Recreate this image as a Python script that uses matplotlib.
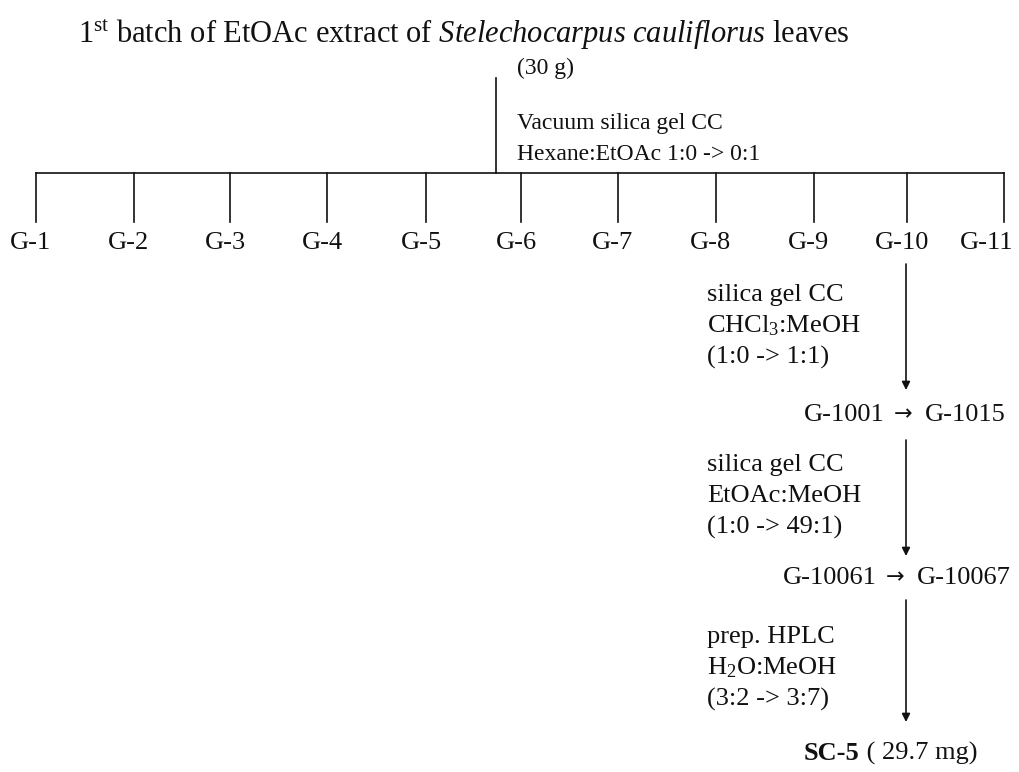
import matplotlib

matplotlib.use("Agg")
import matplotlib.pyplot as plt

SERIF = ["Liberation Serif", "DejaVu Serif"]
INK = "#111111"

plt.rcParams.update({
    "font.family": SERIF,
    "mathtext.fontset": "custom",
    "mathtext.rm": "Liberation Serif",
    "mathtext.it": "Liberation Serif:italic",
    "mathtext.bf": "Liberation Serif:bold",
    "text.color": INK,
})

# fractions from the first column
groups = ["G-1", "G-2", "G-3", "G-4", "G-5", "G-6", "G-7", "G-8", "G-9", "G-10", "G-11"]
group_x = [36, 134, 230, 327, 426, 521, 618, 716, 814, 907, 1004]

title = r"1$^{\mathrm{st}}$ batch of EtOAc extract of $\mathit{Stelechocarpus\ cauliflorus}$ leaves"
mass = "(30 g)"
first_step = ["Vacuum silica gel CC", "Hexane:EtOAc 1:0 -> 0:1"]

# chain of steps below G-10
steps = [
    ["silica gel CC", r"CHCl$_3$:MeOH", "(1:0 -> 1:1)"],
    ["silica gel CC", "EtOAc:MeOH", "(1:0 -> 49:1)"],
    ["prep. HPLC", r"H$_2$O:MeOH", "(3:2 -> 3:7)"],
]
products = [("G-1001", "G-1015"), ("G-10061", "G-10067")]
final_name = "SC-5"
final_mass = " ( 29.7 mg)"

fig = plt.figure(figsize=(10.2, 7.72), dpi=100)
ax = fig.add_axes([0, 0, 1, 1])
ax.set_xlim(0, 1020)
ax.set_ylim(772, 0)
ax.axis("off")

FS = 19
LW = 1.2

ax.text(78, 35, title, fontsize=22, ha="left", va="center")
ax.text(517, 68, mass, fontsize=17, ha="left", va="center")

# trunk + header bar
ax.plot([496, 496], [78, 173], color=INK, lw=LW)
for i, s in enumerate(first_step):
    ax.text(517, 124 + 30 * i, s, fontsize=17, ha="left", va="center")
ax.plot([group_x[0], group_x[-1]], [173, 173], color=INK, lw=LW)
for i, (x, g) in enumerate(zip(group_x, groups)):
    ax.plot([x, x], [173, 222], color=INK, lw=LW)
    if i == len(groups) - 1:
        ax.text(1013, 243, g, fontsize=FS, ha="right", va="center")
    else:
        ax.text(x - 5, 243, g, fontsize=FS, ha="center", va="center")

# descending chain
col_x = 906
tops = [264, 440, 600]
bottoms = [390, 556, 722]
label_tops = [295, 465, 637]
for top, bot, ly, lines in zip(tops, bottoms, label_tops, steps):
    ax.annotate("", xy=(col_x, bot), xytext=(col_x, top),
                arrowprops=dict(arrowstyle="-|>", color=INK, lw=LW,
                                mutation_scale=12, shrinkA=0, shrinkB=0))
    for i, s in enumerate(lines):
        ax.text(707, ly + 31 * i, s, fontsize=FS, ha="left", va="center")

prod_y = [415, 578]
arrow_x = [903, 895]
for (a, b), y, xa in zip(products, prod_y, arrow_x):
    ax.text(xa - 18, y, a, fontsize=FS, ha="right", va="center")
    ax.text(xa, y - 1, "\u2192", fontsize=16, ha="center", va="center",
            family="DejaVu Sans")
    ax.text(xa + 22, y, b, fontsize=FS, ha="left", va="center")

t = ax.text(804, 753, final_name, fontsize=FS, ha="left", va="center", fontweight="bold")
fig.canvas.draw()
bb = t.get_window_extent()
x_end = ax.transData.inverted().transform((bb.x1, bb.y0))[0]
ax.text(x_end, 753, final_mass, fontsize=FS, ha="left", va="center")

fig.savefig("out.png", dpi=100, facecolor="white")
